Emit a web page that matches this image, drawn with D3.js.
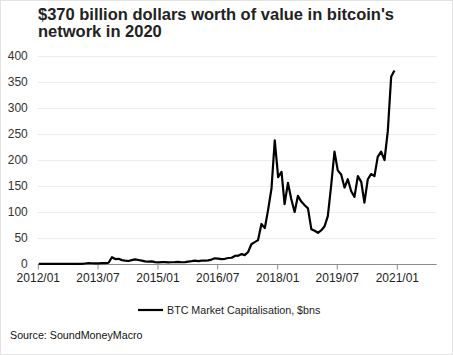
<!DOCTYPE html>
<html><head><meta charset="utf-8">
<script src="https://cdn.jsdelivr.net/npm/d3@7"></script>
<style>
html,body{margin:0;padding:0;background:#fff;}
svg{display:block;font-family:"Liberation Sans",Arial,sans-serif;}
</style></head>
<body>
<svg id="c" width="453" height="355"></svg>
<script>
const title = ["$370 billion dollars worth of value in bitcoin's", "network in 2020"];
const seriesName = "BTC Market Capitalisation, $bns";
const source = "Source: SoundMoneyMacro";
const startYear = 2012;
// monthly market cap, $bn, Jan 2012 .. Dec 2020
const v2012 = [0.06,0.05,0.05,0.05,0.05,0.06,0.09,0.11,0.12,0.11,0.13,0.14];
const v2013 = [0.2,0.35,1.0,1.5,1.4,1.1,1.2,1.5,1.6,2.4,13,9.5];
const v2014 = [10,7.5,6.5,5.8,7.5,9,7.7,6.5,5,4.5,5,3.5];
const v2015 = [3,3.5,3.5,3.3,3.4,3.6,4.2,3.4,3.5,4.7,5.5,6.5];
const v2016 = [5.7,6.6,6.5,7,8.5,11,10.5,9.5,10,11.5,12,15.5];
const v2017 = [16,19,17,23,38,42,46,77,69,104,145,238];
const v2018 = [167,177,115,156,125,100,131,120,113,107,67,64];
const v2019 = [60,65,72,92,150,216,180,172,147,163,140,129];
const v2020 = [169,158,118,163,173,169,206,216,200,255,360,372];
const yTicks = [0,50,100,150,200,250,300,350,400];
const xTickLabels = ["2012/01","2013/07","2015/01","2016/07","2018/01","2019/07","2021/01"];

const values = [].concat(v2012,v2013,v2014,v2015,v2016,v2017,v2018,v2019,v2020);
const data = values.map((v,i)=>({date:new Date(startYear + Math.floor(i/12), i%12, 10), value:v}));
const xTicks = xTickLabels.map(s=>{const [y,m]=s.split("/").map(Number);return new Date(y,m-1,1);});

const svg = d3.select("#c");
svg.append("rect").attr("x",0.5).attr("y",0.5).attr("width",452).attr("height",354)
  .attr("fill","#fff").attr("stroke","#e3e3e3");

const x = d3.scaleTime().domain([new Date(2012,0,1), new Date(2022,0,1)]).range([37.8, 436.7]);
const y = d3.scaleLinear().domain([0,400]).range([264,56]);

// title
svg.append("text").attr("x",38).attr("y",20).attr("font-size",16.5).attr("font-weight","bold")
  .attr("fill","#222").selectAll("tspan").data(title).join("tspan")
  .attr("x",38).attr("dy",(d,i)=>i?17:0).text(d=>d);

// grid
svg.append("g").selectAll("line").data(yTicks.filter(d=>d>0)).join("line")
  .attr("x1",37.8).attr("x2",436.7).attr("y1",d=>Math.round(y(d))+0.5).attr("y2",d=>Math.round(y(d))+0.5)
  .attr("stroke","#ececec").attr("stroke-width",1);

// y axis labels
const ya = svg.append("g").attr("transform","translate(37.8,0)")
  .call(d3.axisLeft(y).tickValues(yTicks).tickSize(0).tickPadding(10));
ya.select(".domain").remove();
ya.selectAll("text").attr("font-size",12).attr("fill","#333").attr("font-family","Liberation Sans, Arial, sans-serif");

// x axis
const xa = svg.append("g").attr("transform","translate(0,264.5)")
  .call(d3.axisBottom(x).tickValues(xTicks).tickSize(5).tickPadding(4).tickFormat(d3.timeFormat("%Y/%m")));
xa.select(".domain").attr("stroke","#8c8c8c").attr("d","M37.8,0H436.7");
xa.selectAll(".tick line").attr("stroke","#8c8c8c");
xa.selectAll("text").attr("font-size",12).attr("fill","#222").attr("font-family","Liberation Sans, Arial, sans-serif");

// line
svg.append("path").datum(data)
  .attr("d", d3.line().x(d=>x(d.date)).y(d=>y(d.value)))
  .attr("fill","none").attr("stroke","#000").attr("stroke-width",2.2).attr("stroke-linejoin","round");

// legend
svg.append("line").attr("x1",138).attr("x2",163).attr("y1",310).attr("y2",310).attr("stroke","#000").attr("stroke-width",2.2);
svg.append("text").attr("x",167).attr("y",314).attr("font-size",10.7).attr("fill","#222").text(seriesName);

// source
svg.append("text").attr("x",10).attr("y",339).attr("font-size",10.7).attr("fill","#111").text(source);
</script>
</body></html>
